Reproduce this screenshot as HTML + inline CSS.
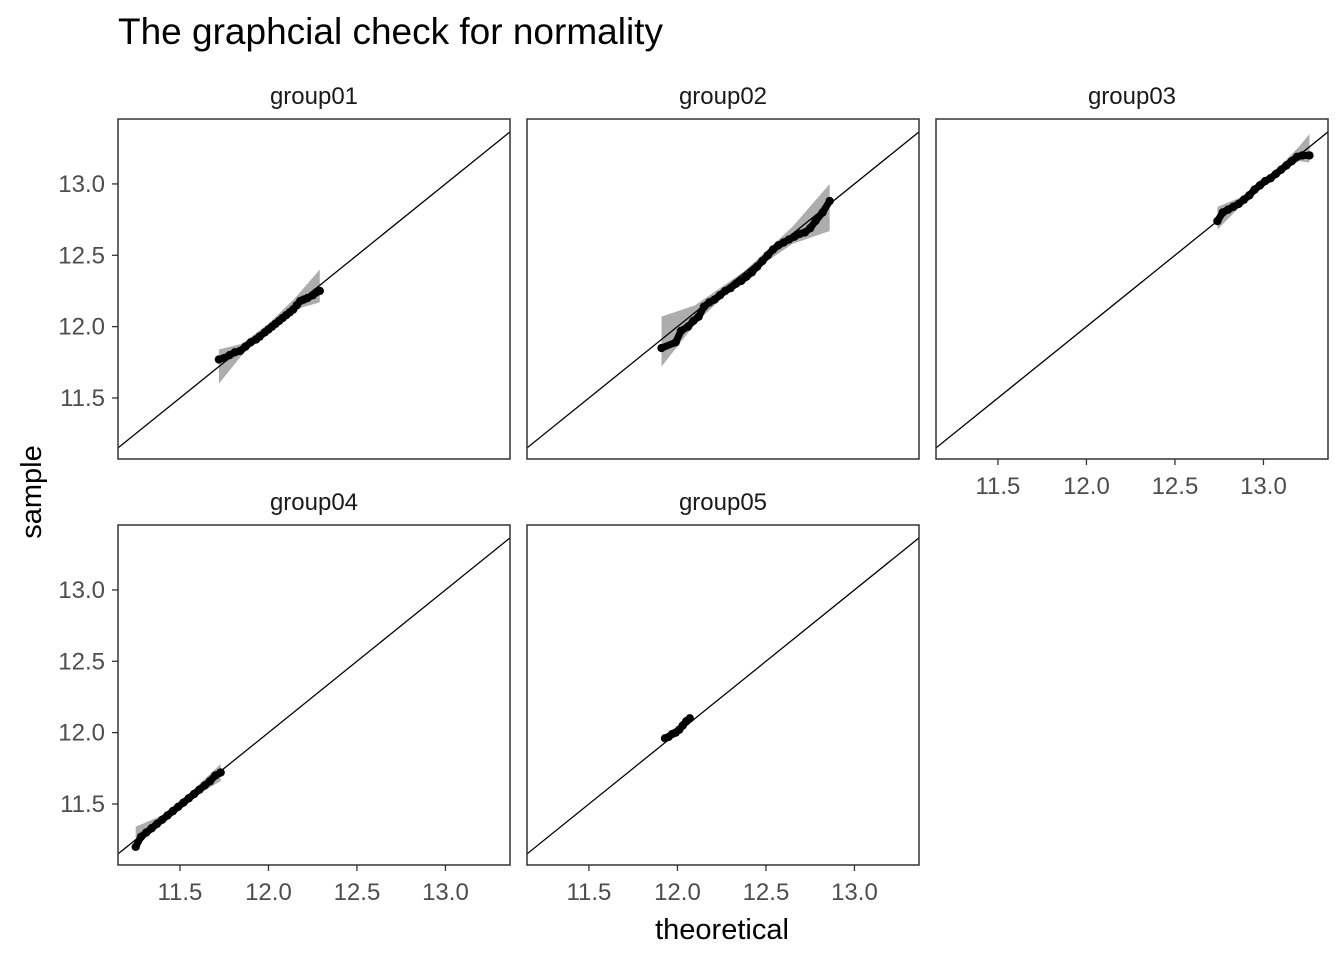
<!DOCTYPE html>
<html><head><meta charset="utf-8"><style>
html,body{margin:0;padding:0;background:#fff;}
svg{display:block;font-family:"Liberation Sans",sans-serif;}
</style></head><body>
<svg id="chart" width="1344" height="960">
<text x="118" y="44" font-size="37" fill="#000">The graphcial check for normality</text>
<text transform="translate(41,492) rotate(-90)" text-anchor="middle" font-size="29" fill="#000">sample</text>
<text x="722" y="939" text-anchor="middle" font-size="29" fill="#000">theoretical</text>
<g id="panels"></g>
</svg>
<script>
const groupNames = ["group01","group02","group03","group04","group05"];
const xTicks = [11.5, 12.0, 12.5, 13.0];
const yTicks = [11.5, 12.0, 12.5, 13.0];
const tickLabels = ["11.5","12.0","12.5","13.0"];
const theo01 = [11.72,11.75,11.78,11.81,11.84,11.87,11.90,11.93,11.95,11.98,12.00,12.02,12.04,12.06,12.08,12.10,12.12,12.14,12.16,12.18,12.20,12.22,12.25,12.27,12.29];
const samp01 = [11.77,11.78,11.80,11.82,11.83,11.86,11.89,11.91,11.93,11.96,11.98,12.00,12.02,12.04,12.06,12.08,12.10,12.12,12.15,12.18,12.19,12.20,12.22,12.24,12.25];
const theo02 = [11.91,11.99,12.02,12.06,12.09,12.12,12.15,12.18,12.21,12.24,12.27,12.30,12.33,12.36,12.39,12.42,12.45,12.48,12.51,12.54,12.57,12.60,12.63,12.66,12.69,12.72,12.75,12.78,12.82,12.86];
const samp02 = [11.85,11.89,11.97,12.00,12.04,12.07,12.14,12.17,12.19,12.22,12.25,12.27,12.30,12.32,12.35,12.38,12.42,12.46,12.50,12.54,12.57,12.59,12.61,12.63,12.65,12.66,12.69,12.74,12.80,12.88];
const theo03 = [12.74,12.77,12.80,12.83,12.86,12.89,12.92,12.95,12.98,13.01,13.04,13.07,13.10,13.13,13.16,13.19,13.22,13.26];
const samp03 = [12.74,12.80,12.82,12.84,12.86,12.89,12.92,12.96,12.99,13.02,13.04,13.07,13.10,13.13,13.16,13.19,13.20,13.20];
const theo04 = [11.25,11.28,11.31,11.34,11.37,11.40,11.43,11.46,11.49,11.52,11.55,11.58,11.61,11.64,11.67,11.70,11.73];
const samp04 = [11.20,11.27,11.30,11.33,11.36,11.39,11.42,11.45,11.48,11.51,11.54,11.57,11.60,11.63,11.66,11.70,11.72];
const theo05 = [11.93,11.95,11.97,11.99,12.01,12.03,12.05,12.07];
const samp05 = [11.96,11.97,11.99,12.00,12.02,12.05,12.08,12.10];
const bandX01 = [11.72,11.85,12.00,12.15,12.29];
const bandLo01 = [11.60,11.80,11.98,12.12,12.17];
const bandHi01 = [11.84,11.88,12.02,12.20,12.40];
const bandX02 = [11.91,12.10,12.38,12.65,12.86];
const bandLo02 = [11.72,12.02,12.35,12.58,12.67];
const bandHi02 = [12.07,12.15,12.39,12.70,13.00];
const bandX03 = [12.74,12.90,13.05,13.20,13.26];
const bandLo03 = [12.68,12.88,13.04,13.16,13.15];
const bandHi03 = [12.84,12.92,13.07,13.26,13.35];
const bandX04 = [11.25,11.40,11.55,11.73];
const bandLo04 = [11.22,11.38,11.53,11.66];
const bandHi04 = [11.34,11.42,11.57,11.78];
const bandX05 = [11.93,12.00,12.07];
const bandLo05 = [11.93,12.00,12.06];
const bandHi05 = [11.97,12.02,12.10];
const groupTheo = [theo01,theo02,theo03,theo04,theo05];
const groupSamp = [samp01,samp02,samp03,samp04,samp05];
const groupBandX = [bandX01,bandX02,bandX03,bandX04,bandX05];
const groupBandLo = [bandLo01,bandLo02,bandLo03,bandLo04,bandLo05];
const groupBandHi = [bandHi01,bandHi02,bandHi03,bandHi04,bandHi05];

const NS = "http://www.w3.org/2000/svg";
const PW = 392, PH = 340;
const XMIN = 11.15, XMAX = 11.15 + PW/177;
const YMAX = 13.455, YMIN = 13.455 - PH/142.7;
const panelPos = [[118,119],[527,119],[936,119],[118,525],[527,525]];
const xAxisPanels = [2,3,4];
const yAxisPanels = [0,3];
const root = document.getElementById("panels");
function mk(tag, attrs, parent){ const e=document.createElementNS(NS,tag); for(const k in attrs) e.setAttribute(k,attrs[k]); parent.appendChild(e); return e; }

groupNames.forEach((name,i)=>{
  const [ox,oy] = panelPos[i];
  const sx = v => ox + (v - XMIN)/(XMAX - XMIN)*PW;
  const sy = v => oy + (YMAX - v)/(YMAX - YMIN)*PH;
  const g = mk("g",{},root);
  
  
  const strip = mk("text",{x:ox+PW/2,y:oy-15,"text-anchor":"middle","font-size":24,fill:"#1a1a1a"},g);
  strip.textContent = name;
  
  
  const cp = mk("clipPath",{id:"cp"+i},g);
  mk("rect",{x:ox,y:oy,width:PW,height:PH},cp);
  const inner = mk("g",{"clip-path":"url(#cp"+i+")"},g);
  const bx = groupBandX[i], lo = groupBandLo[i], hi = groupBandHi[i];
  let d = "";
  bx.forEach((v,k)=>{ d += (k?"L":"M") + sx(v) + "," + sy(hi[k]); });
  for(let k=bx.length-1;k>=0;k--) d += "L" + sx(bx[k]) + "," + sy(lo[k]);
  const band = mk("path",{d:d+"Z",fill:"#999",opacity:0.8},inner);
  
  
  const ln = mk("line",{x1:sx(XMIN),y1:sy(XMIN),x2:sx(XMAX),y2:sy(XMAX),stroke:"#000","stroke-width":1.3},inner);
  
  
  const th = groupTheo[i], sa = groupSamp[i];
  let pd = "";
  th.forEach((v,k)=>{ pd += (k?"L":"M") + sx(v) + "," + sy(sa[k]); });
  const dense = mk("path",{d:pd,fill:"none",stroke:"#000","stroke-width":7,"stroke-linecap":"round","stroke-linejoin":"round"},inner);
  
  
  th.forEach((v,k)=>{
    const c = mk("circle",{cx:sx(v),cy:sy(sa[k]),r:4.2,fill:"#000"},inner);
    
    
  });
  const fr = mk("rect",{x:ox,y:oy,width:PW,height:PH,fill:"none",stroke:"#333","stroke-width":1.5},g);
  
  
  if (xAxisPanels.includes(i)) {
    xTicks.forEach((t,k)=>{
      mk("line",{x1:sx(t),x2:sx(t),y1:oy+PH,y2:oy+PH+6,stroke:"#333","stroke-width":1.3},g);
      const tl = mk("text",{x:sx(t),y:oy+PH+35,"text-anchor":"middle","font-size":24,fill:"#4d4d4d"},g);
      tl.textContent = tickLabels[k];
      
      
    });
  }
  if (yAxisPanels.includes(i)) {
    yTicks.forEach((t,k)=>{
      mk("line",{x1:ox-6,x2:ox,y1:sy(t),y2:sy(t),stroke:"#333","stroke-width":1.3},g);
      const tl = mk("text",{x:ox-13,y:sy(t)+8,"text-anchor":"end","font-size":24,fill:"#4d4d4d"},g);
      tl.textContent = tickLabels[k];
      
      
    });
  }
});
</script>
</body></html>
